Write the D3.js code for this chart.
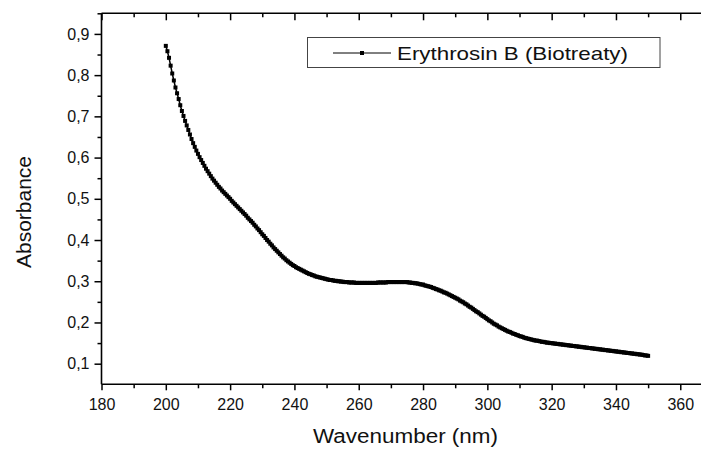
<!DOCTYPE html>
<html>
<head>
<meta charset="utf-8">
<script src="https://cdn.jsdelivr.net/npm/d3@7"></script>
<style>
  body { margin: 0; background: #fff; }
  svg { display: block; font-family: "Liberation Sans", Arial, sans-serif; }
</style>
</head>
<body>
<svg id="chart"></svg>
<script>
// sampling grid of the spectrum (nm)
let startNm = 200
let stepNm = 0.5

// absorbance, one value every 0.5 nm from 200 to 350
let absorbance = [
  0.871,0.858,0.842,0.823,0.804,0.787,0.770,0.756,0.742,0.727, // 200
  0.713,0.701,0.689,0.678,0.667,0.656,0.645,0.635,0.626,0.617, // 205
  0.609,0.601,0.594,0.587,0.580,0.573,0.567,0.561,0.555,0.549, // 210
  0.544,0.539,0.534,0.529,0.525,0.520,0.516,0.512,0.508,0.504, // 215
  0.500,0.495,0.491,0.487,0.483,0.479,0.475,0.471,0.467,0.463, // 220
  0.459,0.454,0.450,0.446,0.442,0.437,0.433,0.428,0.424,0.419, // 225
  0.414,0.410,0.405,0.400,0.396,0.391,0.387,0.382,0.378,0.374, // 230
  0.370,0.366,0.362,0.358,0.355,0.351,0.348,0.345,0.342,0.339, // 235
  0.337,0.334,0.332,0.330,0.328,0.326,0.324,0.322,0.320,0.318, // 240
  0.317,0.315,0.314,0.312,0.311,0.310,0.309,0.308,0.307,0.306, // 245
  0.305,0.304,0.303,0.303,0.302,0.301,0.301,0.300,0.300,0.299, // 250
  0.299,0.298,0.298,0.298,0.297,0.297,0.297,0.297,0.296,0.296, // 255
  0.296,0.296,0.296,0.296,0.296,0.296,0.296,0.296,0.296,0.296, // 260
  0.296,0.296,0.297,0.297,0.297,0.297,0.297,0.297,0.298,0.298, // 265
  0.298,0.298,0.298,0.298,0.298,0.298,0.298,0.298,0.298,0.298, // 270
  0.298,0.297,0.297,0.296,0.296,0.295,0.295,0.294,0.293,0.292, // 275
  0.292,0.290,0.289,0.288,0.287,0.286,0.284,0.283,0.281,0.280, // 280
  0.278,0.277,0.275,0.273,0.272,0.270,0.268,0.266,0.264,0.262, // 285
  0.260,0.258,0.256,0.253,0.251,0.249,0.246,0.244,0.241,0.238, // 290
  0.236,0.233,0.230,0.227,0.225,0.222,0.219,0.216,0.214,0.211, // 295
  0.208,0.205,0.203,0.200,0.197,0.195,0.193,0.190,0.188,0.186, // 300
  0.184,0.182,0.180,0.178,0.177,0.175,0.173,0.172,0.170,0.169, // 305
  0.167,0.166,0.165,0.163,0.162,0.161,0.160,0.159,0.158,0.157, // 310
  0.156,0.156,0.155,0.154,0.153,0.153,0.152,0.151,0.151,0.150, // 315
  0.150,0.149,0.149,0.148,0.148,0.147,0.147,0.146,0.146,0.145, // 320
  0.145,0.144,0.144,0.143,0.143,0.142,0.142,0.141,0.141,0.140, // 325
  0.140,0.139,0.139,0.138,0.138,0.137,0.137,0.136,0.136,0.135, // 330
  0.135,0.134,0.134,0.133,0.133,0.132,0.132,0.131,0.131,0.130, // 335
  0.130,0.129,0.129,0.128,0.128,0.127,0.127,0.126,0.126,0.125, // 340
  0.125,0.124,0.124,0.123,0.123,0.122,0.122,0.121,0.120,0.120, // 345
  0.119                                                        // 350
]

let xTicks = [180, 200, 220, 240, 260, 280, 300, 320, 340, 360]
let xMinor = [190, 210, 230, 250, 270, 290, 310, 330, 350]
let yTicks = [0.1, 0.2, 0.3, 0.4, 0.5, 0.6, 0.7, 0.8, 0.9]
let yMinor = [0.15, 0.25, 0.35, 0.45, 0.55, 0.65, 0.75, 0.85, 0.95]
let seriesName = 'Erythrosin B (Biotreaty)'

let w = 701
let h = 449
let pLeft = 101.5
let pRight = 706
let pTop = 13.3
let pBottom = 384.3

let svg = d3.select('#chart').attr('width', w).attr('height', h)

let data = absorbance.map((v, i) => ({ x: startNm + i * stepNm, y: v }))

let xScale = d3.scaleLinear().domain([180, 368]).range([pLeft, pRight])
let yScale = d3.scaleLinear().domain([0.05, 0.95]).range([pBottom, pTop])

let fmt = d => d3.format('.1f')(d).replace('.', ',')

// bottom axis (ticks outward)
let xAxis = svg.append('g').attr('transform', 'translate(0,' + pBottom + ')')
  .call(d3.axisBottom(xScale).tickValues(xTicks).tickSize(6).tickPadding(5).tickFormat(d3.format('d')))
svg.append('g').attr('transform', 'translate(0,' + pBottom + ')')
  .call(d3.axisBottom(xScale).tickValues(xMinor).tickSize(4).tickFormat(''))

// top axis (ticks pointing down)
svg.append('g').attr('transform', 'translate(0,' + pTop + ')')
  .call(d3.axisBottom(xScale).tickValues(xTicks).tickSize(7).tickFormat(''))
svg.append('g').attr('transform', 'translate(0,' + pTop + ')')
  .call(d3.axisBottom(xScale).tickValues(xMinor).tickSize(4).tickFormat(''))

// left axis
svg.append('g').attr('transform', 'translate(' + pLeft + ',0)')
  .call(d3.axisLeft(yScale).tickValues(yTicks).tickSize(7).tickPadding(5).tickFormat(fmt))
svg.append('g').attr('transform', 'translate(' + pLeft + ',0)')
  .call(d3.axisLeft(yScale).tickValues(yMinor).tickSize(4).tickFormat(''))

svg.selectAll('.domain').remove()
svg.selectAll('.tick line').attr('stroke', '#000').attr('stroke-width', 1.5)
svg.selectAll('.tick text').attr('fill', '#111').style('font-size', '16px')
xAxis.selectAll('.tick text').attr('dy', '0.9em')

// frame lines
svg.append('line').attr('x1', pLeft).attr('x2', pRight).attr('y1', pBottom).attr('y2', pBottom)
  .attr('stroke', '#000').attr('stroke-width', 1.6)
svg.append('line').attr('x1', pLeft).attr('x2', pRight).attr('y1', pTop).attr('y2', pTop)
  .attr('stroke', '#000').attr('stroke-width', 1.6)
svg.append('line').attr('x1', pLeft).attr('x2', pLeft).attr('y1', pTop).attr('y2', pBottom)
  .attr('stroke', '#000').attr('stroke-width', 1.6)

// spectrum line + square markers
let line = d3.line().x(d => xScale(d.x)).y(d => yScale(d.y))
svg.append('path').datum(data).attr('d', line)
  .attr('fill', 'none').attr('stroke', '#000').attr('stroke-width', 1.5)

let ms = 4
svg.selectAll('rect.pt').data(data).enter().append('rect')
  .attr('class', 'pt')
  .attr('x', d => xScale(d.x) - ms / 2)
  .attr('y', d => yScale(d.y) - ms / 2)
  .attr('width', ms).attr('height', ms)
  .attr('fill', '#000')

// legend
let lg = svg.append('g')
lg.append('rect').attr('x', 307.5).attr('y', 37.5).attr('width', 352.5).attr('height', 30)
  .attr('fill', '#fff').attr('stroke', '#444').attr('stroke-width', 1)
lg.append('line').attr('x1', 333).attr('x2', 391).attr('y1', 53).attr('y2', 53)
  .attr('stroke', '#000').attr('stroke-width', 1)
lg.append('rect').attr('x', 362 - ms / 2).attr('y', 53 - ms / 2).attr('width', ms).attr('height', ms)
  .attr('fill', '#000')
lg.append('text').attr('x', 397).attr('y', 60).text(seriesName)
  .attr('textLength', 231).attr('lengthAdjust', 'spacingAndGlyphs')
  .style('font-size', '19px').attr('fill', '#111')

// axis titles
svg.append('text').attr('x', 405.5).attr('y', 443).attr('text-anchor', 'middle')
  .attr('textLength', 185).attr('lengthAdjust', 'spacingAndGlyphs')
  .style('font-size', '20px').attr('fill', '#111')
  .text('Wavenumber (nm)')
svg.append('text').attr('transform', 'translate(31,212) rotate(-90)').attr('text-anchor', 'middle')
  .attr('textLength', 112).attr('lengthAdjust', 'spacingAndGlyphs')
  .style('font-size', '20px').attr('fill', '#111')
  .text('Absorbance')
</script>
</body>
</html>
